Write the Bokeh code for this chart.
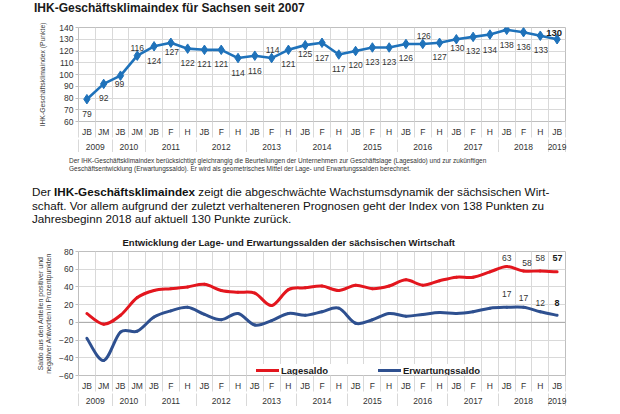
from bokeh.plotting import figure
from bokeh.models import (FixedTicker, LinearAxis, Range1d, Div, Span, Legend,
                          LegendItem, ColumnDataSource, Grid)
from bokeh.layouts import column
from bokeh.embed import file_html
from bokeh.resources import INLINE
from bokeh.core.properties import value

# ---------------- data ----------------
periods = ["JB", "JM", "JB", "JM", "JB", "F", "H", "JB", "F", "H", "JB", "F", "H",
           "JB", "F", "H", "JB", "F", "H", "JB", "F", "H", "JB", "F", "H",
           "JB", "F", "H", "JB"]
years = ["2009", "2010", "2011", "2012", "2013", "2014", "2015", "2016", "2017", "2018", "2019"]
periods_per_year = [2, 2, 3, 3, 3, 3, 3, 3, 3, 3, 1]

index_values = [79, 92, 99, 116, 124, 127, 122, 121, 121, 114, 116, 114, 121, 125, 127,
                117, 120, 123, 123, 126, 126, 127, 130, 132, 134, 138, 136, 133, 130]
lage_values = [10, -2, 8, 28, 36, 38, 40, 43, 36, 34, 33, 19, 37, 39, 41,
               36, 42, 38, 41, 48, 42, 47, 51, 51, 57, 63, 58, 58, 57]
erwartung_values = [-18, -43, -11, -10, 6, 13, 17, 9, 3, 10, -3, 2, 10, 8, 12,
                    16, -1, 3, 10, 7, 9, 11, 10, 12, 16, 17, 17, 12, 8]

title_top = "IHK-Geschäftsklimaindex für Sachsen seit 2007"
ylabel_top = "IHK-Geschäftsklimaindex (Punkte)"
title_bottom = "Entwicklung der Lage- und Erwartungssalden der sächsischen Wirtschaft"
ylabel_bottom = "Saldo aus den Anteilen positiver und\nnegativer Antworten in Prozentpunkten"
name_lage = "Lagesaldo"
name_erw = "Erwartungssaldo"
footnote_lines = [
    "Der IHK-Geschäftsklimaindex berücksichtigt gleichrangig die Beurteilungen der Unternehmen zur Geschäftslage (Lagesaldo) und zur zukünftigen",
    "Geschäftsentwicklung (Erwartungssaldo). Er wird als geometrisches Mittel der Lage- und Erwartungssalden berechnet.",
]

# ---------------- styles ----------------
FONT = "Liberation Sans"
CSS_FONT = "font-family:'Liberation Sans',Arial,sans-serif;"
GRID = "#D9D9D9"
FRAME = "#BFBFBF"
TXT = "#333333"
C_INDEX = "#1F72BA"
C_LAGE = "#E3161E"
C_ERW = "#2E5090"

# label placement (screen px) for the index chart
index_label_dy = [14.5, 14.5, 8, -8, 15, 9, 14.5, 14.5, 14.5, 14.5, 15, -8, 14.5, 9, 15,
                  14.5, 14, 14.5, 14.5, 14.5, -8, 14.5, 8.5, 14.5, 15, 15.5, 14.5, 14.5, -6.5]
index_label_dx = [0, 0, -1, 0, 0, 1, 0, 0, 0, 0, 0, 1, 0, 0, 0,
                  0, 0, 0, 0, 0, 1, 0, 1, 0, 0, 0, 0, 0.5, -3]
n_labelled = 4
lage_label_dy = [-9, -8, -13, -14]
lage_label_dx = [0, 3.5, 0, 0.5]
erw_label_dy = [-13, -9, -9, -12]
erw_label_dx = [0, 0, 0, 0]

n = len(periods)
centers = [i + 0.5 for i in range(n)]
bounds = [float(i) for i in range(n + 1)]
year_bounds = [0.0]
for k in periods_per_year:
    year_bounds.append(year_bounds[-1] + k)
year_centers = [(year_bounds[k] + year_bounds[k + 1]) / 2 for k in range(len(years))]


def base_figure(height, left, top, yr, yticks, ylabel, ylabel_size, ylabel_standoff):
    p = figure(width=604, height=height, x_range=Range1d(0, n), y_range=Range1d(*yr),
               x_axis_type=None, y_axis_type=None, output_backend="svg",
               toolbar_location=None, min_border_left=left, min_border_right=39,
               min_border_top=top, min_border_bottom=0,
               background_fill_color="white", border_fill_color="white",
               outline_line_color=FRAME)
    p.add_layout(Grid(dimension=0, ticker=FixedTicker(ticks=bounds), grid_line_color=GRID))
    p.add_layout(Grid(dimension=1, ticker=FixedTicker(ticks=yticks), grid_line_color=GRID))
    yax = LinearAxis(ticker=FixedTicker(ticks=yticks), axis_line_color=None,
                     major_tick_out=3, major_tick_in=0, major_tick_line_color=FRAME,
                     minor_tick_line_color=None, major_label_standoff=2,
                     major_label_text_font=FONT, major_label_text_font_size="8.5px",
                     major_label_text_color=TXT,
                     axis_label=ylabel, axis_label_text_font=FONT,
                     axis_label_text_font_size=ylabel_size,
                     axis_label_text_font_style="normal", axis_label_text_color="#404040",
                     axis_label_standoff=ylabel_standoff)
    p.add_layout(yax, "left")
    ax1 = LinearAxis(ticker=FixedTicker(ticks=centers, minor_ticks=bounds),
                     major_label_overrides={float(c): s for c, s in zip(centers, periods)},
                     axis_line_color=FRAME, major_tick_line_color=None,
                     major_tick_out=0, major_tick_in=0,
                     minor_tick_out=16, minor_tick_in=0, minor_tick_line_color=GRID,
                     major_label_standoff=-11, major_label_text_font=FONT,
                     major_label_text_font_size="8.5px", major_label_text_color=TXT)
    ax2 = LinearAxis(ticker=FixedTicker(ticks=year_centers, minor_ticks=year_bounds),
                     major_label_overrides={float(c): s for c, s in zip(year_centers, years)},
                     axis_line_color=None, major_tick_line_color=None,
                     major_tick_out=0, major_tick_in=0,
                     minor_tick_out=16, minor_tick_in=0, minor_tick_line_color=GRID,
                     major_label_standoff=-12, major_label_text_font=FONT,
                     major_label_text_font_size="8.5px", major_label_text_color=TXT)
    p.add_layout(ax1, "below")
    p.add_layout(ax2, "below")
    return p


# ---------------- top chart ----------------
head = Div(
    text=(f'<div style="padding:0 0 0 34px;{CSS_FONT}font-size:12px;font-weight:bold;'
          f'line-height:14px;color:#1a1a1a;white-space:nowrap;">{title_top}</div>'),
    width=604, height=20, margin=(0, 0, 0, 0))

p1 = base_figure(132, 72, 7, (60, 140), list(range(60, 141, 10)), ylabel_top, "6.8px", 10)

p1.line(centers, index_values, line_width=2.6, line_color=C_INDEX, line_join="round")
p1.scatter(centers, index_values, marker="diamond", size=9.5, fill_color=C_INDEX,
           line_color=C_INDEX)

lab = ColumnDataSource(dict(x=centers[:-1], y=index_values[:-1],
                            t=[str(v) for v in index_values[:-1]],
                            dx=index_label_dx[:-1], dy=index_label_dy[:-1]))
p1.text(x="x", y="y", text="t", x_offset="dx", y_offset="dy", source=lab,
        text_align="center", text_baseline="middle", text_font=value(FONT),
        text_font_size="8.5px", text_color=TXT)
lab_last = ColumnDataSource(dict(x=centers[-1:], y=index_values[-1:],
                                 t=[str(v) for v in index_values[-1:]],
                                 dx=index_label_dx[-1:], dy=index_label_dy[-1:]))
p1.text(x="x", y="y", text="t", x_offset="dx", y_offset="dy", source=lab_last,
        text_align="center", text_baseline="middle", text_font=value(FONT),
        text_font_size="9.5px", text_font_style="bold", text_color="#1a1a1a")

# ---------------- texts ----------------
foot = Div(
    text=(f'<div style="padding:5px 0 0 69px;{CSS_FONT}'
          'font-size:6.5px;line-height:8px;color:#333;white-space:nowrap;">'
          + "<br>".join(footnote_lines) + "</div>"),
    width=604, height=20, margin=(0, 0, 0, 0))

jl = 'style="text-align:justify;text-align-last:justify;white-space:nowrap;"'
para = Div(
    text=(f'<div style="padding:13px 0 0 32px;width:522px;{CSS_FONT}'
          'font-size:11.7px;line-height:13.5px;color:#111;">'
          f'<div {jl}>Der <b>IHK-Geschäftsklimaindex</b> zeigt die abgeschwächte Wachstumsdynamik der sächsischen Wirt-</div>'
          f'<div {jl}>schaft. Vor allem aufgrund der zuletzt verhalteneren Prognosen geht der Index von 138 Punkten zu</div>'
          '<div style="white-space:nowrap;">Jahresbeginn 2018 auf aktuell 130 Punkte zurück.</div>'
          '</div>'),
    width=604, height=56, margin=(0, 0, 0, 0))

# ---------------- bottom chart ----------------
p2 = base_figure(178, 78, 23, (-60, 80), list(range(-60, 81, 20)), ylabel_bottom, "7px", 4)
p2.title.text = title_bottom
p2.title.align = "left"
p2.title.offset = 44
p2.title.standoff = 7
p2.title.text_font = FONT
p2.title.text_font_size = "9.5px"
p2.title.text_font_style = "bold"
p2.title.text_color = "#1a1a1a"

p2.add_layout(Span(location=0, dimension="width", line_color="#A6A6A6", line_width=1,
                   level="underlay"))


def bezier_source(xs, ys):
    px = [xs[0]] + list(xs) + [xs[-1]]
    py = [ys[0]] + list(ys) + [ys[-1]]
    d = dict(x0=[], y0=[], x1=[], y1=[], cx0=[], cy0=[], cx1=[], cy1=[])
    for i in range(len(xs) - 1):
        ax, ay = px[i], py[i]
        bx, by = px[i + 1], py[i + 1]
        cx, cy = px[i + 2], py[i + 2]
        ex, ey = px[i + 3], py[i + 3]
        d["x0"].append(bx); d["y0"].append(by)
        d["x1"].append(cx); d["y1"].append(cy)
        d["cx0"].append(bx + (cx - ax) / 6); d["cy0"].append(by + (cy - ay) / 6)
        d["cx1"].append(cx - (ex - bx) / 6); d["cy1"].append(cy - (ey - by) / 6)
    return ColumnDataSource(d)


r_lage = p2.bezier(x0="x0", y0="y0", x1="x1", y1="y1", cx0="cx0", cy0="cy0",
                   cx1="cx1", cy1="cy1", source=bezier_source(centers, lage_values),
                   line_color=C_LAGE, line_width=3, line_cap="round")
r_erw = p2.bezier(x0="x0", y0="y0", x1="x1", y1="y1", cx0="cx0", cy0="cy0",
                  cx1="cx1", cy1="cy1", source=bezier_source(centers, erwartung_values),
                  line_color=C_ERW, line_width=3, line_cap="round")

for vals, dxs, dys in ((lage_values, lage_label_dx, lage_label_dy),
                       (erwartung_values, erw_label_dx, erw_label_dy)):
    xs = centers[-n_labelled:]
    ys = vals[-n_labelled:]
    src = ColumnDataSource(dict(x=xs[:-1], y=ys[:-1], t=[str(v) for v in ys[:-1]],
                                dx=dxs[:-1], dy=dys[:-1]))
    p2.text(x="x", y="y", text="t", x_offset="dx", y_offset="dy", source=src,
            text_align="center", text_baseline="middle", text_font=value(FONT),
            text_font_size="8.5px", text_color=TXT)
    src2 = ColumnDataSource(dict(x=xs[-1:], y=ys[-1:], t=[str(v) for v in ys[-1:]],
                                 dx=dxs[-1:], dy=dys[-1:]))
    p2.text(x="x", y="y", text="t", x_offset="dx", y_offset="dy", source=src2,
            text_align="center", text_baseline="middle", text_font=value(FONT),
            text_font_size="9px", text_font_style="bold", text_color="#1a1a1a")

legend = Legend(items=[LegendItem(label=name_lage, renderers=[r_lage]),
                       LegendItem(label=name_erw, renderers=[r_erw])],
                location=(178, -1), orientation="horizontal",
                background_fill_color="white", background_fill_alpha=1.0,
                border_line_color=None, label_text_font=FONT,
                label_text_font_size="9.5px", label_text_font_style="bold",
                label_text_color="#1a1a1a", glyph_width=23, glyph_height=12,
                label_height=12, label_standoff=2, spacing=50, padding=1, margin=0)
p2.add_layout(legend)

layout = column(head, p1, foot, para, p2, spacing=0)
open("out.html", "w").write(file_html(layout, INLINE))
